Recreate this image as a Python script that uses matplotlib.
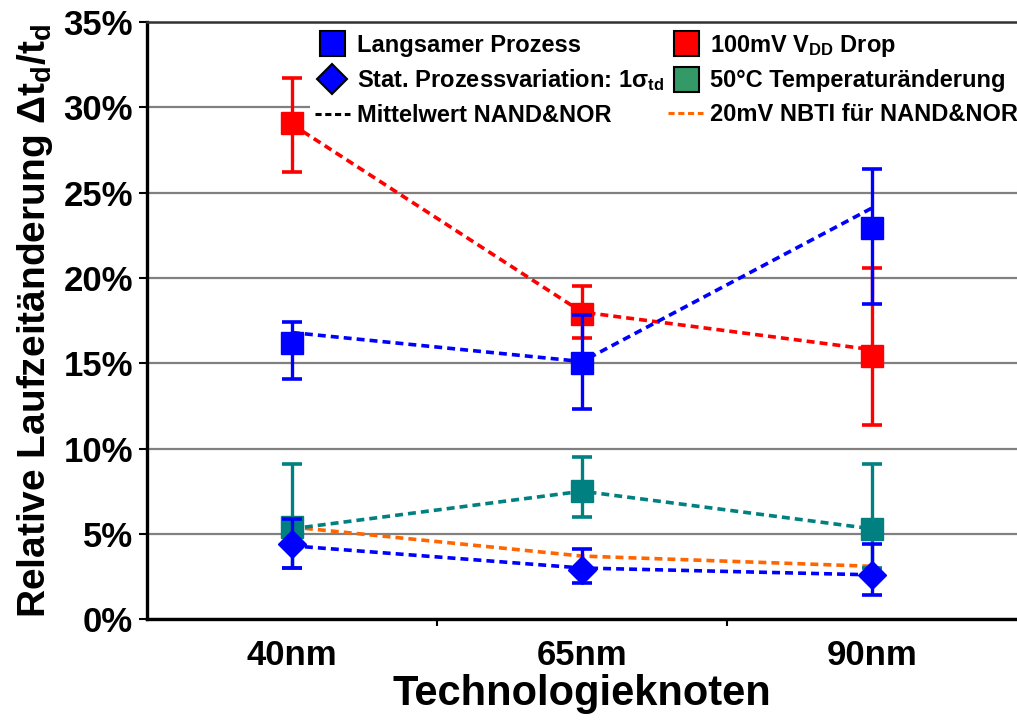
import matplotlib
matplotlib.use('Agg')
import matplotlib.pyplot as plt
from matplotlib.lines import Line2D
from matplotlib.ticker import FuncFormatter, FixedLocator

plt.rcParams['font.family'] = ['Liberation Sans', 'DejaVu Sans']
plt.rcParams['font.weight'] = 'bold'
plt.rcParams['axes.labelweight'] = 'bold'
plt.rcParams['mathtext.default'] = 'regular'

nodes = ['40nm', '65nm', '90nm']
x = [1, 2, 3]

# values in percent
slow_val = [16.2, 15.0, 22.9]
slow_lo = [14.1, 12.3, 18.5]
slow_hi = [17.4, 17.8, 26.4]
slow_mean = [16.8, 15.1, 24.1]

vdd_val = [29.1, 17.9, 15.4]
vdd_lo = [26.2, 16.5, 11.4]
vdd_hi = [31.7, 19.5, 20.6]
vdd_mean = [29.0, 18.0, 15.8]

temp_val = [5.4, 7.5, 5.3]
temp_lo = [3.0, 6.0, 3.0]
temp_hi = [9.1, 9.5, 9.1]
temp_mean = [5.3, 7.5, 5.3]

sigma_val = [4.4, 2.9, 2.6]
sigma_lo = [3.0, 2.1, 1.4]
sigma_hi = [5.9, 4.1, 4.4]
sigma_mean = [4.3, 3.0, 2.6]

nbti_mean = [5.4, 3.7, 3.1]

blue = '#0000ff'
red = '#ff0000'
teal = '#008080'
orange = '#ff6600'
legend_green = '#339966'

fig = plt.figure(figsize=(10.17, 7.2), dpi=100)
ax = fig.add_axes([0.1445, 0.140, 0.8555, 0.8294])

dash = (0, (2.2, 1.4))


def series(val, lo, hi, mean, color, marker, ms, z):
    ax.plot(x, mean, color=color, lw=2.6, linestyle=dash, zorder=z)
    err = [[v - l for v, l in zip(val, lo)], [h - v for v, h in zip(val, hi)]]
    ax.errorbar(x, val, yerr=err, fmt=marker, color=color, ms=ms, mec=color,
                elinewidth=2.4, capsize=7, capthick=2.6, zorder=z + 1)


ax.plot(x, nbti_mean, color=orange, lw=2.6, linestyle=dash, zorder=2)
series(vdd_val, vdd_lo, vdd_hi, vdd_mean, red, 's', 16.5, 3)
series(slow_val, slow_lo, slow_hi, slow_mean, blue, 's', 16.5, 5)
series(temp_val, temp_lo, temp_hi, temp_mean, teal, 's', 16.5, 3)
series(sigma_val, sigma_lo, sigma_hi, sigma_mean, blue, 'D', 14, 5)

ax.set_xlim(0.5, 3.5)
ax.set_ylim(0, 35)
ax.set_yticks(range(0, 36, 5))
ax.yaxis.set_major_formatter(FuncFormatter(lambda v, p: '%d%%' % v))
ax.set_xticks(x)
ax.set_xticklabels(nodes)
ax.xaxis.set_minor_locator(FixedLocator([1.5, 2.5]))
ax.tick_params(axis='x', which='major', length=0, labelsize=25, pad=14)
ax.tick_params(axis='x', which='minor', length=5, width=1.5, direction='out')
ax.tick_params(axis='y', length=6, width=1.5, direction='out', labelsize=25, pad=4)

ax.grid(axis='y', color='#808080', lw=1.6)
ax.set_axisbelow(True)
for s in ['left', 'bottom']:
    ax.spines[s].set_linewidth(2.4)
ax.spines['top'].set_color('#333333')
ax.spines['top'].set_linewidth(1.8)
ax.spines['right'].set_visible(False)

ax.set_xlabel('Technologieknoten', fontsize=30, labelpad=2)
ax.set_ylabel(r'Relative Laufzeitänderung Δt$_d$/t$_d$', fontsize=28, labelpad=6)

handles = [
    Line2D([], [], ls='none', marker='s', ms=18, mfc=blue, mec='black', mew=1.5),
    Line2D([], [], ls='none', marker='D', ms=15, mfc=blue, mec='black', mew=1.5),
    Line2D([], [], color='black', lw=2.2, linestyle=(0, (2, 1.2))),
    Line2D([], [], ls='none', marker='s', ms=18, mfc=red, mec='black', mew=1.5),
    Line2D([], [], ls='none', marker='s', ms=18, mfc=legend_green, mec='black', mew=1.5),
    Line2D([], [], color=orange, lw=2.2, linestyle=(0, (2, 1.2))),
]
labels = [
    'Langsamer Prozess',
    r'Stat. Prozessvariation: 1σ$_{td}$',
    'Mittelwert NAND&NOR',
    r'100mV V$_{DD}$ Drop',
    '50°C Temperaturänderung',
    '20mV NBTI für NAND&NOR',
]
leg = fig.legend(handles, labels, ncol=2, loc='upper left',
                 bbox_to_anchor=(310 / 1017, 1 - 28 / 720),
                 fontsize=17, frameon=True, facecolor='white', edgecolor='none',
                 framealpha=1, fancybox=False, handlelength=1.5, handletextpad=0.3,
                 columnspacing=0.15, labelspacing=0.45, borderpad=0.2, borderaxespad=0)
leg.set_zorder(10)

fig.savefig('out.png', dpi=100)
